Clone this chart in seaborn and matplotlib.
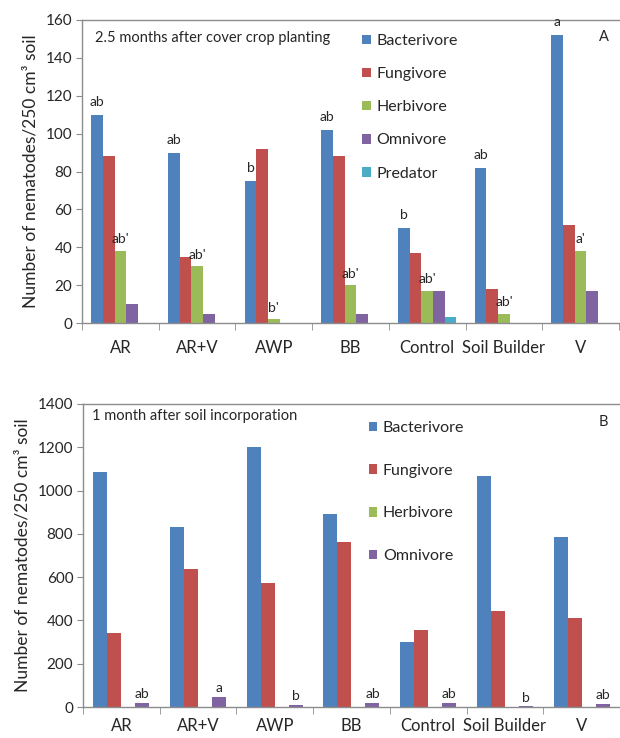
import numpy as np
import pandas as pd
import matplotlib
matplotlib.use("Agg")
import matplotlib.pyplot as plt
import seaborn as sns

# Data
treatments = ["AR", "AR+V", "AWP", "BB", "Control", "Soil Builder", "V"]

groups_a = ["Bacterivore", "Fungivore", "Herbivore", "Omnivore", "Predator"]
bacterivore_a = [110, 90, 75, 102, 50, 82, 152]
fungivore_a = [88, 35, 92, 88, 37, 18, 52]
herbivore_a = [38, 30, 2, 20, 17, 5, 38]
omnivore_a = [10, 5, 0, 5, 17, 0, 17]
predator_a = [0, 0, 0, 0, 3, 0, 0]
letters_bact_a = ["ab", "ab", "b", "ab", "b", "ab", "a"]
letters_herb_a = ["ab'", "ab'", "b'", "ab'", "ab'", "ab'", "a'"]

groups_b = ["Bacterivore", "Fungivore", "Herbivore", "Omnivore"]
bacterivore_b = [1087, 833, 1200, 890, 299, 1066, 785]
fungivore_b = [340, 638, 571, 764, 357, 442, 413]
herbivore_b = [0, 0, 0, 0, 0, 0, 0]
omnivore_b = [20, 45, 8, 20, 18, 3, 14]
letters_omni_b = ["ab", "a", "b", "ab", "ab", "b", "ab"]

colors = ["#4F81BD", "#C0504D", "#9BBB59", "#8064A2", "#4BACC6"]


def long_frame(groups, series):
    rows = []
    for g, vals in zip(groups, series):
        for t, v in zip(treatments, vals):
            rows.append({"Treatment": t, "Group": g, "Value": v})
    return pd.DataFrame(rows)


df_a = long_frame(groups_a, [bacterivore_a, fungivore_a, herbivore_a, omnivore_a, predator_a])
df_b = long_frame(groups_b, [bacterivore_b, fungivore_b, herbivore_b, omnivore_b])

sns.set_style("white")
plt.rcParams["font.family"] = ["Lato", "DejaVu Sans"]

fig = plt.figure(figsize=(6.2, 7.38), dpi=100)
ax_a = fig.add_axes([0.1323, 0.5623, 0.866, 0.4106])
ax_b = fig.add_axes([0.1339, 0.0420, 0.866, 0.4106])


def draw_panel(ax, df, groups, width, ymax, ystep, legend_anchor, spacing, xpad):
    sns.barplot(data=df, x="Treatment", y="Value", hue="Group", hue_order=groups,
                palette=colors[:len(groups)], width=width, gap=0, linewidth=0,
                errorbar=None, saturation=1, ax=ax)
    ax.set_ylim(0, ymax)
    ax.set_yticks(np.arange(0, ymax + 1, ystep))
    ax.set_xlim(-0.5, len(treatments) - 0.5)
    ax.set_xlabel("")
    ax.set_ylabel("Number of nematodes/250 cm³ soil", fontsize=12.5, labelpad=5)
    for side in ["left", "bottom", "top"]:
        ax.spines[side].set_visible(True)
        ax.spines[side].set_color("#8c8c8c")
        ax.spines[side].set_linewidth(1.0)
    ax.spines["right"].set_visible(False)
    ax.tick_params(axis="y", length=4, color="#8c8c8c", labelsize=11, pad=3, left=True)
    ax.tick_params(axis="x", which="major", length=0, labelsize=12, pad=xpad)
    ax.set_xticks(np.arange(-0.5, len(treatments) + 0.5), minor=True)
    ax.tick_params(axis="x", which="minor", length=5, color="#8c8c8c", bottom=True)
    ax.legend(loc="upper left", bbox_to_anchor=legend_anchor, frameon=False,
              fontsize=11.5, handlelength=0.55, handleheight=0.55, handletextpad=0.35,
              labelspacing=spacing, borderaxespad=0)


def label_bars(ax, idx, labels, offset):
    for patch, lab in zip(ax.containers[idx], labels):
        ax.annotate(lab, (patch.get_x() + patch.get_width() / 2, patch.get_height()),
                    xytext=(0, offset), textcoords="offset points", ha="center",
                    va="bottom", fontsize=10)


draw_panel(ax_a, df_a, groups_a, 0.76, 160, 20, (0.51, 0.975), 1.2, 12)
label_bars(ax_a, 0, letters_bact_a, 5)
label_bars(ax_a, 2, letters_herb_a, 4)
ax_a.text(0.024, 0.94, "2.5 months after cover crop planting", transform=ax_a.transAxes,
          fontsize=10.5, va="center", ha="left")
ax_a.text(0.972, 0.944, "A", transform=ax_a.transAxes, fontsize=10.5, va="center", ha="center")

draw_panel(ax_b, df_b, groups_b, 0.73, 1400, 200, (0.52, 0.965), 1.8, 8)
label_bars(ax_b, 3, letters_omni_b, 2)
ax_b.text(0.017, 0.96, "1 month after soil incorporation", transform=ax_b.transAxes,
          fontsize=10.5, va="center", ha="left")
ax_b.text(0.97, 0.94, "B", transform=ax_b.transAxes, fontsize=10.5, va="center", ha="center")

fig.savefig("out.png", dpi=100, facecolor="white")
